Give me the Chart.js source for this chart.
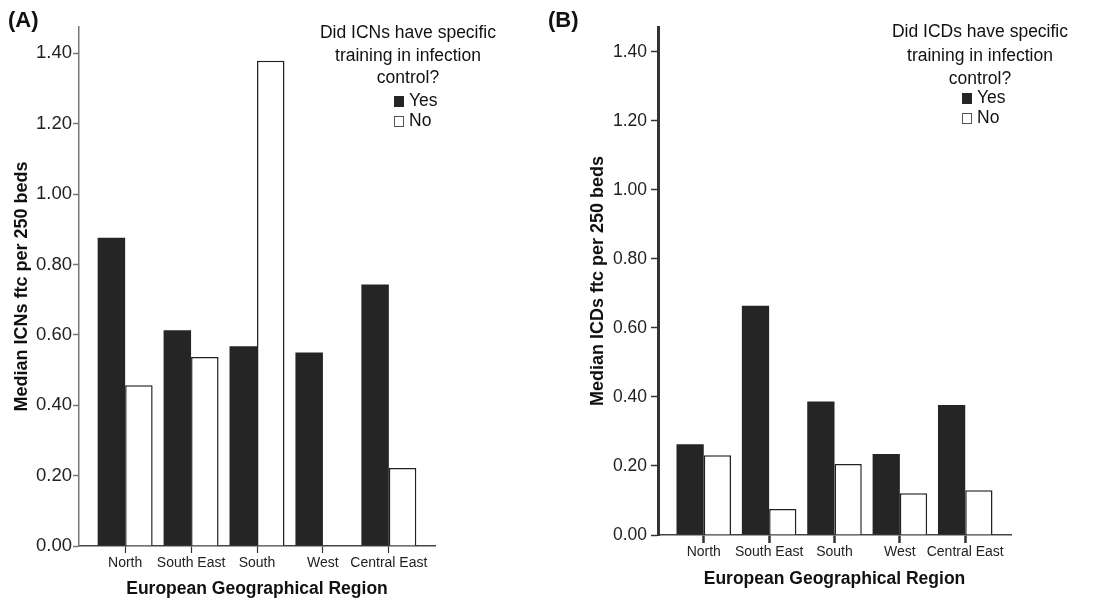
<!DOCTYPE html>
<html>
<head>
<meta charset="utf-8">
<script src="https://cdn.jsdelivr.net/npm/chart.js@4.4.0/dist/chart.umd.min.js"></script>
<style>
  body { margin: 0; background: #fff; font-family: 'Liberation Sans', Arial, sans-serif; color: #111; }
  #wrap { position: relative; width: 1101px; height: 600px; overflow: hidden; }
  canvas { position: absolute; top: 0; }
  .tag { position: absolute; top: 7px; font-weight: bold; font-size: 22px; }
  .legTitle { position: absolute; width: 240px; text-align: center; font-size: 17.5px; }
  .legItems { position: absolute; font-size: 17.5px; line-height: 20px; }
  .sw { display: inline-block; width: 10px; height: 11px; margin-right: 5px; vertical-align: -1px; box-sizing: border-box; }
</style>
</head>
<body>
<div id="wrap">
  <canvas id="chartA" width="550" height="600" style="left:0"></canvas>
  <canvas id="chartB" width="551" height="600" style="left:550px"></canvas>
  <div class="tag" style="left:8px">(A)</div>
  <div class="tag" style="left:548px">(B)</div>
  <div class="legTitle" id="legTitleA" style="left:288px; top:21px; line-height:22.5px"></div>
  <div class="legItems" id="legItemsA" style="left:394px; top:90px"></div>
  <div class="legTitle" id="legTitleB" style="left:860px; top:20px; line-height:23.5px"></div>
  <div class="legItems" id="legItemsB" style="left:962px; top:87px"></div>
</div>
<script>
// data
const regions = ['North', 'South East', 'South', 'West', 'Central East'];
const yTicks = [0, 0.2, 0.4, 0.6, 0.8, 1.0, 1.2, 1.4];
const seriesNames = ['Yes', 'No'];

const icnYes = [0.876, 0.613, 0.568, 0.55, 0.743];
const icnNo = [0.457, 0.537, 1.379, null, 0.222];

const icdYes = [0.263, 0.664, 0.387, 0.235, 0.377];
const icdNo = [0.231, 0.075, 0.206, 0.121, 0.13];

const legTitleA = ['Did ICNs have specific', 'training in infection', 'control?'];
const legTitleB = ['Did ICDs have specific', 'training in infection', 'control?'];

const FONT = "'Liberation Sans', Arial, sans-serif";
const YES_COLOR = '#252525';

const toPoints = (arr) => arr.map((v, i) => ({ x: i, y: v }));

const makeChart = (id, yes, no, p) => {
  const ctx = document.getElementById(id);
  return new Chart(ctx, {
    type: 'bar',
    data: {
      datasets: [{
        label: seriesNames[0],
        data: toPoints(yes),
        backgroundColor: YES_COLOR,
        borderWidth: 0,
      }, {
        label: seriesNames[1],
        data: toPoints(no),
        backgroundColor: '#ffffff',
        borderColor: '#222',
        borderWidth: 1.5,
      }]
    },
    options: {
      responsive: false,
      animation: false,
      categoryPercentage: 0.834,
      barPercentage: 1.0,
      layout: { padding: { left: 0, right: p.padRight, top: 27, bottom: 0 } },
      plugins: { legend: { display: false }, tooltip: { enabled: false } },
      scales: {
        x: {
          type: 'linear',
          min: -0.7,
          max: 4.7,
          offset: false,
          afterBuildTicks: (s) => { s.ticks = regions.map((_, i) => ({ value: i })); },
          afterFit: (s) => { s.height = p.xHeight; },
          ticks: {
            callback: (v) => regions[v],
            autoSkip: false,
            maxRotation: 0,
            color: '#222',
            padding: p.xTickPad,
            font: { family: FONT, size: 14 },
          },
          grid: { display: true, offset: false, drawOnChartArea: false, tickLength: p.xTickLen, tickColor: '#333', tickWidth: p.xTickWidth },
          border: { color: '#444', width: 1.5 },
          title: {
            display: true,
            text: 'European Geographical Region',
            color: '#111',
            font: { family: FONT, size: 17.5, weight: 'bold' },
            padding: { top: 0, bottom: p.xTitlePad },
          },
        },
        y: {
          min: 0,
          max: p.yMax,
          afterBuildTicks: (s) => { s.ticks = yTicks.map((v) => ({ value: v })); },
          afterFit: (s) => { s.width = p.yWidth; },
          ticks: {
            callback: (v) => v.toFixed(2),
            color: '#222',
            padding: p.yTickPad,
            font: { family: FONT, size: p.yTickSize },
          },
          grid: { display: true, drawOnChartArea: false, tickLength: p.yTickLen, tickColor: p.yAxisColor, tickWidth: 1.5 },
          border: { color: p.yAxisColor, width: p.yAxisWidth },
          title: {
            display: true,
            text: p.yTitle,
            color: '#111',
            font: { family: FONT, size: 18, weight: 'bold' },
            padding: { top: p.yTitlePad, bottom: 0 },
          },
        },
      },
    },
  });
};

const chartA = makeChart('chartA', icnYes, icnNo, {
  padRight: 115, xHeight: 54, xTickPad: 2, xTickLen: 7, xTickWidth: 1.2, xTitlePad: 0,
  yMax: 1.475, yWidth: 79, yTickPad: 1, yTickSize: 18.5, yTickLen: 6,
  yAxisColor: '#777', yAxisWidth: 1.5,
  yTitle: 'Median ICNs ftc per 250 beds', yTitlePad: 11,
});

const chartB = makeChart('chartB', icdYes, icdNo, {
  padRight: 90, xHeight: 65, xTickPad: 1, xTickLen: 8, xTickWidth: 2.5, xTitlePad: 10,
  yMax: 1.472, yWidth: 108, yTickPad: 4, yTickSize: 17.5, yTickLen: 7,
  yAxisColor: '#333', yAxisWidth: 3,
  yTitle: 'Median ICDs ftc per 250 beds', yTitlePad: 37,
});

// html legends built from the chart datasets
const buildLegend = (chart, titleId, itemsId, titleLines) => {
  document.getElementById(titleId).innerHTML = titleLines.join('<br>');
  document.getElementById(itemsId).innerHTML = chart.data.datasets.map((ds) => {
    const border = ds.borderWidth ? '1.5px solid #555' : 'none';
    return `<div><span class="sw" style="background:${ds.backgroundColor};border:${border}"></span>${ds.label}</div>`;
  }).join('');
};

buildLegend(chartA, 'legTitleA', 'legItemsA', legTitleA);
buildLegend(chartB, 'legTitleB', 'legItemsB', legTitleB);
</script>
</body>
</html>
